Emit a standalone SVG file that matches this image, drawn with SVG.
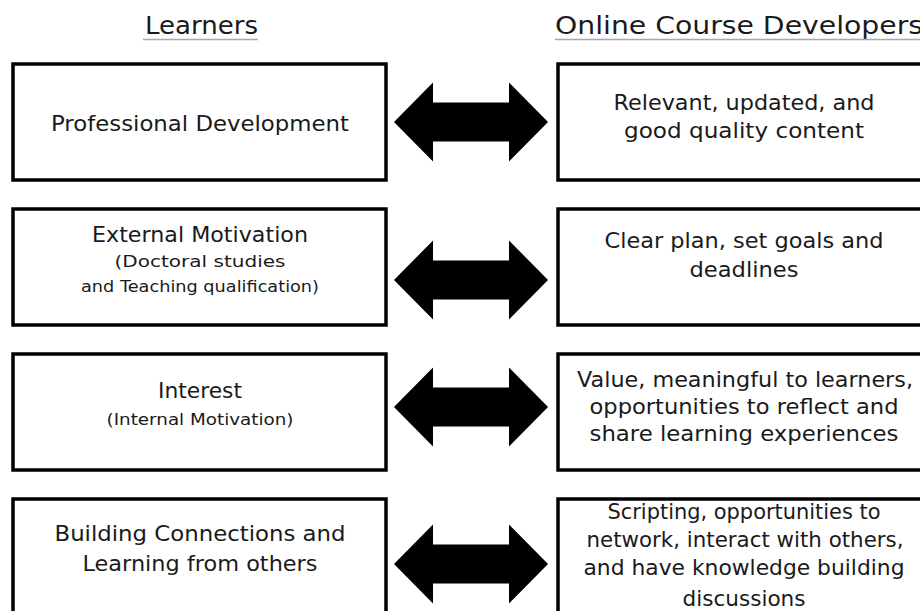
<svg xmlns="http://www.w3.org/2000/svg" width="920" height="611" viewBox="0 0 920 611">
  <style>
    .box { fill: #ffffff; stroke: #000000; stroke-width: 3.5; }
    .head { font-family: "DejaVu Sans", "Liberation Sans", sans-serif; font-size: 24px; fill: #1a1a1a; }
    .rule { stroke: #a8a8a8; stroke-width: 1.6; }
    .t { font-family: "DejaVu Sans", "Liberation Sans", sans-serif; font-size: 21px; fill: #1a1a1a; text-anchor: middle; }
    .s { font-family: "DejaVu Sans", "Liberation Sans", sans-serif; font-size: 16.5px; fill: #1a1a1a; text-anchor: middle; }
    .arrow { fill: #000000; }
  </style>
  <defs>
    <!-- double-headed block arrow, centred vertically on y=0 -->
    <path id="dbl" d="M394 0 L433 -39.5 L433 -19.5 L509 -19.5 L509 -39.5 L548 0 L509 39.5 L509 19.5 L433 19.5 L433 39.5 Z"/>
  </defs>
  <rect width="920" height="611" fill="#ffffff"/>

  <!-- column headings -->
  <g id="heading-learners">
    <text class="head" x="201.5" y="34" text-anchor="middle" textLength="113" lengthAdjust="spacingAndGlyphs">Learners</text>
    <line class="rule" x1="143" y1="39.5" x2="258" y2="39.5"/>
  </g>
  <g id="heading-developers">
    <text class="head" x="555" y="34" textLength="368" lengthAdjust="spacingAndGlyphs">Online Course Developers</text>
    <line class="rule" x1="555" y1="39.5" x2="920" y2="39.5"/>
  </g>

  <!-- learner column -->
  <g id="learner-1">
    <rect class="box" x="13" y="64" width="373" height="116"/>
    <text class="t" x="200" y="131" textLength="298" lengthAdjust="spacingAndGlyphs">Professional Development</text>
  </g>
  <g id="learner-2">
    <rect class="box" x="13" y="209" width="373" height="116"/>
    <text class="t" x="200" y="242" textLength="216" lengthAdjust="spacingAndGlyphs">External Motivation</text>
    <text class="s" x="200" y="267" textLength="171" lengthAdjust="spacingAndGlyphs">(Doctoral studies</text>
    <text class="s" x="200" y="292" textLength="238" lengthAdjust="spacingAndGlyphs">and Teaching qualification)</text>
  </g>
  <g id="learner-3">
    <rect class="box" x="13" y="354" width="373" height="116"/>
    <text class="t" x="200" y="398" textLength="84" lengthAdjust="spacingAndGlyphs">Interest</text>
    <text class="s" x="200" y="425" textLength="187" lengthAdjust="spacingAndGlyphs">(Internal Motivation)</text>
  </g>
  <g id="learner-4">
    <rect class="box" x="13" y="499" width="373" height="130"/>
    <text class="t" x="200" y="541" textLength="291" lengthAdjust="spacingAndGlyphs">Building Connections and</text>
    <text class="t" x="200" y="571" textLength="235" lengthAdjust="spacingAndGlyphs">Learning from others</text>
  </g>

  <!-- developer column -->
  <g id="developer-1">
    <rect class="box" x="558" y="64" width="373" height="116"/>
    <text class="t" x="744" y="110" textLength="261" lengthAdjust="spacingAndGlyphs">Relevant, updated, and</text>
    <text class="t" x="744" y="138" textLength="240" lengthAdjust="spacingAndGlyphs">good quality content</text>
  </g>
  <g id="developer-2">
    <rect class="box" x="558" y="209" width="373" height="116"/>
    <text class="t" x="744" y="248" textLength="279" lengthAdjust="spacingAndGlyphs">Clear plan, set goals and</text>
    <text class="t" x="744" y="277" textLength="109" lengthAdjust="spacingAndGlyphs">deadlines</text>
  </g>
  <g id="developer-3">
    <rect class="box" x="558" y="354" width="373" height="116"/>
    <text class="t" x="745" y="387" textLength="336" lengthAdjust="spacingAndGlyphs">Value, meaningful to learners,</text>
    <text class="t" x="744" y="414" textLength="309" lengthAdjust="spacingAndGlyphs">opportunities to reflect and</text>
    <text class="t" x="744" y="441" textLength="309" lengthAdjust="spacingAndGlyphs">share learning experiences</text>
  </g>
  <g id="developer-4">
    <rect class="box" x="558" y="499" width="373" height="130"/>
    <text class="t" x="744" y="519" textLength="273" lengthAdjust="spacingAndGlyphs">Scripting, opportunities to</text>
    <text class="t" x="745" y="547" textLength="317" lengthAdjust="spacingAndGlyphs">network, interact with others,</text>
    <text class="t" x="744" y="575" textLength="321" lengthAdjust="spacingAndGlyphs">and have knowledge building</text>
    <text class="t" x="744" y="606" textLength="123" lengthAdjust="spacingAndGlyphs">discussions</text>
  </g>

  <!-- connectors -->
  <g id="connectors" class="arrow">
    <use href="#dbl" transform="translate(0,122)"/>
    <use href="#dbl" transform="translate(0,280)"/>
    <use href="#dbl" transform="translate(0,407)"/>
    <use href="#dbl" transform="translate(0,564)"/>
  </g>
</svg>
